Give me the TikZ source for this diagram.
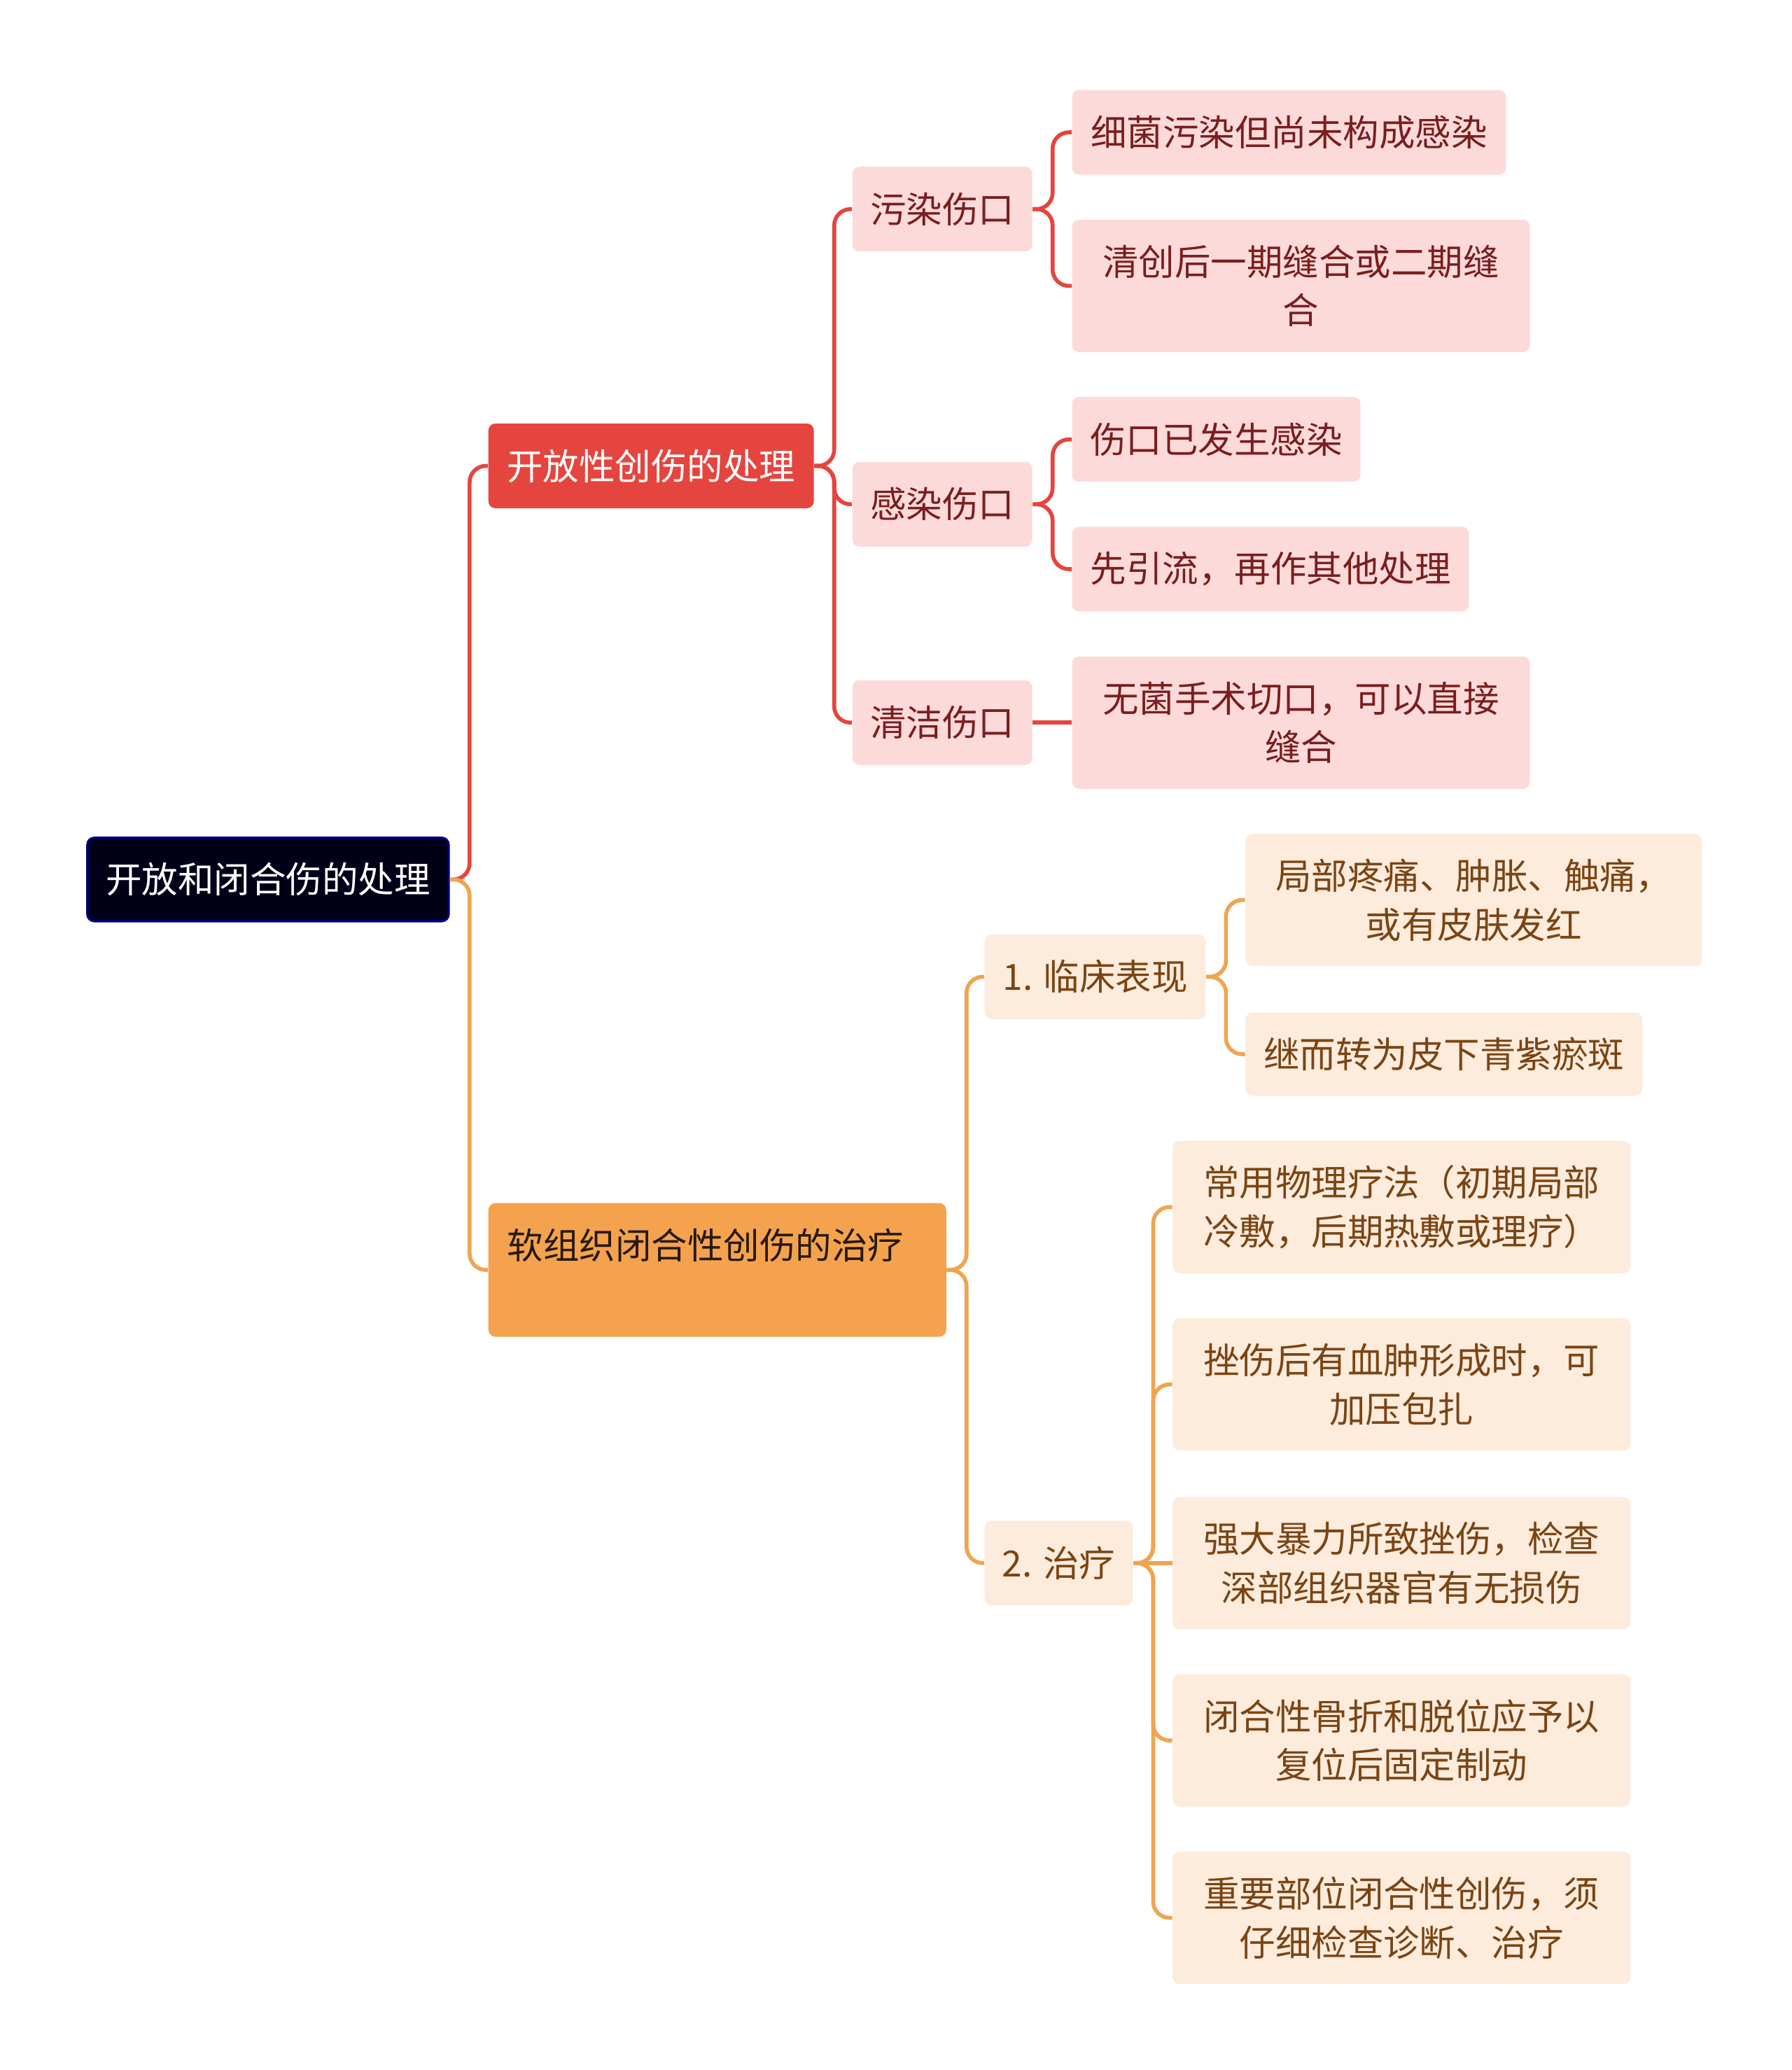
\documentclass[tikz,border=0pt]{standalone}
\usepackage{fontspec}
\setmainfont{Noto Sans CJK SC}
\definecolor{rline}{HTML}{E5453F}
\definecolor{oline}{HTML}{EFA550}
\definecolor{rfill}{HTML}{FDDADA}
\definecolor{ofill}{HTML}{FDEBDC}
\definecolor{rtext}{HTML}{7A1E1E}
\definecolor{otext}{HTML}{7A4514}
\begin{document}
\begin{tikzpicture}[x=0.02cm,y=-0.02cm,
  base/.style={rounded corners=3pt,inner sep=0pt,align=center,font=\fontsize{15.5pt}{21pt}\selectfont},
  rbox/.style={base,fill=rfill,text=rtext},
  obox/.style={base,fill=ofill,text=otext},
  h1/.style={minimum height=1.28cm},
  h2/.style={minimum height=2.0cm},
  rcon/.style={draw=rline,line width=1.7pt,rounded corners=7pt},
  ocon/.style={draw=oline,line width=1.7pt,rounded corners=7pt}]
\useasboundingbox (2,0) rectangle (1356,1564);
\node[base,fill=black!90!blue,draw=blue!50!black,line width=1pt,text=white,minimum width=5.46cm,minimum height=1.26cm] (root) at (204.5,664.5) {开放和闭合伤的处理};
\node[base,fill=rline,text=white,minimum width=4.92cm,h1] (a) at (494,352) {开放性创伤的处理};
\node[base,fill={rgb,255:red,244;green,162;blue,78},minimum width=6.92cm,minimum height=2.02cm] (b) at (544,959.5) {};
\node[base,anchor=west,text=black!80!brown] at (385,941) {软组织闭合性创伤的治疗};
\node[rbox,minimum width=2.72cm,h1] (w1) at (714,158) {污染伤口};
\node[rbox,minimum width=2.72cm,h1] (w2) at (714,381) {感染伤口};
\node[rbox,minimum width=2.72cm,h1] (w3) at (714,546) {清洁伤口};
\node[rbox,minimum width=6.56cm,h1] (l1) at (976,100) {细菌污染但尚未构成感染};
\node[rbox,minimum width=6.92cm,h2] (l2) at (985,216) {清创后一期缝合或二期缝\\合};
\node[rbox,minimum width=4.36cm,h1] (l3) at (921,332) {伤口已发生感染};
\node[rbox,minimum width=6.0cm,h1] (l4) at (962,430) {先引流，再作其他处理};
\node[rbox,minimum width=6.92cm,h2] (l5) at (985,546) {无菌手术切口，可以直接\\缝合};
\node[obox,minimum width=3.34cm,h1] (c1) at (829.5,738) {1. 临床表现};
\node[obox,minimum width=2.24cm,h1] (c2) at (802,1181) {2. 治疗};
\node[obox,minimum width=6.9cm,h2] (m1) at (1115.5,680) {局部疼痛、肿胀、触痛，\\或有皮肤发红};
\node[obox,minimum width=6.0cm,minimum height=1.26cm] (m2) at (1093,796.5) {继而转为皮下青紫瘀斑};
\node[obox,minimum width=6.92cm,h2] (t1) at (1061,912) {常用物理疗法（初期局部\\冷敷，后期热敷或理疗）};
\node[obox,minimum width=6.92cm,h2] (t2) at (1061,1046) {挫伤后有血肿形成时，可\\加压包扎};
\node[obox,minimum width=6.92cm,h2] (t3) at (1061,1181) {强大暴力所致挫伤，检查\\深部组织器官有无损伤};
\node[obox,minimum width=6.92cm,h2] (t4) at (1061,1315) {闭合性骨折和脱位应予以\\复位后固定制动};
\node[obox,minimum width=6.92cm,h2] (t5) at (1061,1449) {重要部位闭合性创伤，须\\仔细检查诊断、治疗};
\foreach \p/\c in {root/a,a/w1,a/w2,a/w3,w1/l1,w1/l2,w2/l3,w2/l4}
  \draw[rcon] (\p.east) -- ++(15,0) |- (\c.west);
\draw[rcon] (w3.east) -- (l5.west);
\foreach \p/\c in {root/b,b/c1,b/c2,c1/m1,c1/m2,c2/t1,c2/t2,c2/t4,c2/t5}
  \draw[ocon] (\p.east) -- ++(15,0) |- (\c.west);
\draw[ocon] (c2.east) -- (t3.west);
\end{tikzpicture}
\end{document}
